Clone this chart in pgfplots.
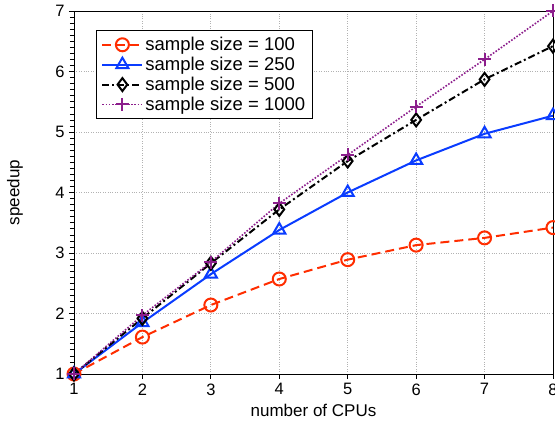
\documentclass[border=0pt]{standalone}
\usepackage{pgfplots}
\pgfplotsset{compat=1.18}
\usepackage{fontspec}
\setmainfont{Liberation Sans}
\definecolor{cred}{RGB}{255,45,0}
\definecolor{cblue}{RGB}{10,60,255}
\definecolor{cpurple}{RGB}{140,30,140}
\newcommand{\tl}{\fontsize{16.5}{18}\selectfont}
\begin{document}
\begin{tikzpicture}
\begin{axis}[
    at={(0,0)}, anchor=south west,
    scale only axis,
    width=479pt, height=363pt,
    xmin=1, xmax=8, ymin=1, ymax=7,
    xtick={1,...,8}, ytick={1,...,7},
    xticklabels={{\tl 1},{\tl 2},{\tl 3},{\tl 4},{\tl 5},{\tl 6},{\tl 7},{\tl 8}},
    yticklabels={{\tl 1},{\tl 2},{\tl 3},{\tl 4},{\tl 5},{\tl 6},{\tl 7}},
    minor y tick num=9,
    xtick pos=bottom, ytick pos=left,
    tick align=outside,
    major tick style={black, line width=0.8pt},
    minor tick style={black, line width=0.6pt},
    major tick length=5pt, minor tick length=4pt,
    grid=major, grid style={dotted, gray!60, line width=0.8pt},
    axis line style={line width=0.9pt},
    yticklabel style={xshift=-1pt},
    xticklabel style={yshift=-1pt},
    label style={font=\fontsize{17}{20}\selectfont},
    xlabel={number of CPUs}, ylabel={speedup},
    xlabel style={at={(axis description cs:0.5,-0.1)}, anchor=center},
    ylabel style={at={(axis description cs:-0.123,0.5)}, anchor=center},
    legend cell align=left,
    legend image code/.code={\draw[mark repeat=2, mark phase=2] plot coordinates {(0cm,0cm) (0.7cm,0cm) (1.4cm,0cm)};},
    legend style={at={(axis description cs:0.046,0.948)}, anchor=north west,
        draw=black, line width=0.9pt, font=\fontsize{18.5}{22}\selectfont,
        inner xsep=5pt, inner ysep=5pt, row sep=1pt},
]
\addplot[cred, line width=2pt, dash pattern=on 9pt off 5pt, mark=o, mark size=6.5pt, mark options={solid, fill=white, line width=2pt}] coordinates {
    (1,1)(2,1.61)(3,2.14)(4,2.57)(5,2.89)(6,3.13)(7,3.25)(8,3.42)
};
\addlegendentry{sample size = 100}
\addplot[cblue, line width=2pt, mark=triangle, mark size=7pt, mark options={solid, fill=white, line width=2pt}] coordinates {
    (1,1)(2,1.85)(3,2.65)(4,3.38)(5,4.0)(6,4.53)(7,4.97)(8,5.27)
};
\addlegendentry{sample size = 250}
\addplot[black, line width=2pt, dash pattern=on 7pt off 3pt on 2pt off 3pt, mark=diamond, mark size=6.5pt, mark options={solid, fill=white, line width=2pt}] coordinates {
    (1,1)(2,1.92)(3,2.83)(4,3.72)(5,4.52)(6,5.2)(7,5.87)(8,6.42)
};
\addlegendentry{sample size = 500}
\addplot[cpurple, line width=1.6pt, dash pattern=on 1.6pt off 1.6pt, mark=+, mark size=6.5pt, mark options={solid, line width=2pt}] coordinates {
    (1,1)(2,1.97)(3,2.85)(4,3.82)(5,4.62)(6,5.42)(7,6.2)(8,7.0)
};
\addlegendentry{sample size = 1000}
\end{axis}
\pgfresetboundingbox
\path[use as bounding box] (-74pt,-49pt) rectangle (481pt,374pt);
\end{tikzpicture}
\end{document}
